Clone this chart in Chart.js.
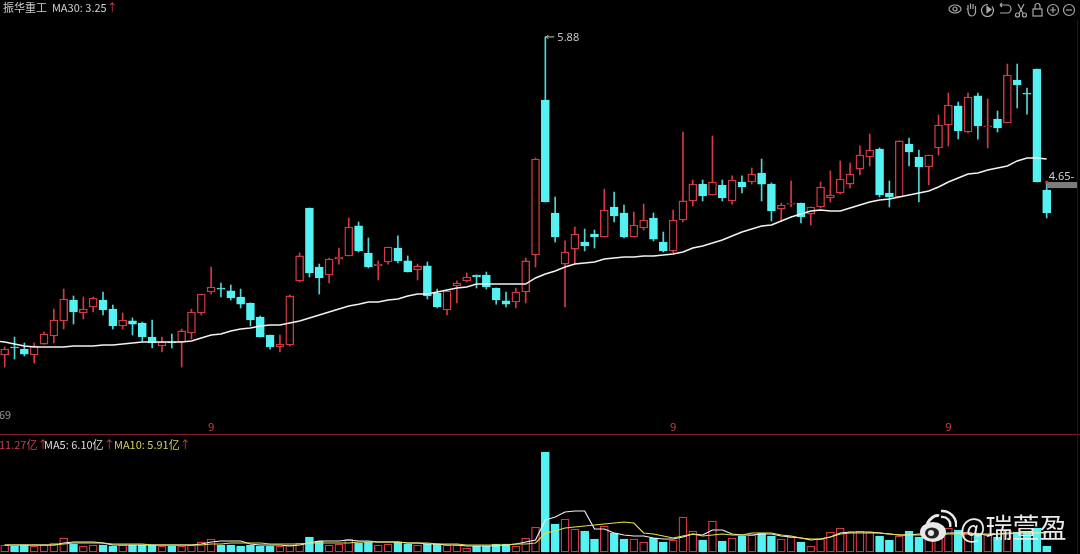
<!DOCTYPE html>
<html>
<head>
<meta charset="utf-8">
<title>振华重工</title>
<script src="https://cdn.jsdelivr.net/npm/chart.js@4"></script>
<style>
    html, body { margin: 0; padding: 0; background: #000; }
    #page { position: relative; width: 1080px; height: 554px; overflow: hidden; background: #000; font-family: "Noto Sans CJK SC", "Noto Sans", sans-serif; }
    #priceBox { position: absolute; left: 0; top: 0; width: 1080px; height: 434px; border-bottom: 1px solid #7d1b26; }
    #volBox { position: absolute; left: 0; top: 436px; width: 1080px; height: 118px; }
    #edge { position: absolute; left: 1077px; top: 20px; width: 1px; height: 534px; background: #3a0d14; }
    canvas { display: block; }
    .txt { position: absolute; font-size: 11px; line-height: 14px; white-space: nowrap; color: #d0d0d0; }
    .up { color: #c8404a; }
    #mark { position: absolute; left: 919px; top: 509px; }
    #sign { position: absolute; left: 960px; top: 509px; font-size: 27px; line-height: 36px; color: #e8e8e8; white-space: nowrap; }
    #tools { position: absolute; left: 945px; top: 1px; }
</style>
</head>
<body>
<div id="page">
    <div id="priceBox"><canvas id="priceChart" width="1080" height="434"></canvas></div>
    <div id="volBox"><canvas id="volChart" width="1080" height="118"></canvas></div>
    <div id="edge"></div>

    <div class="txt" style="left:3px;top:0px">振华重工&nbsp; MA30: 3.25<span class="up">↑</span></div>
    <div class="txt" style="left:-1px;top:407px;color:#9a9a9a">69</div>
    <div class="txt up" style="left:-1px;top:437px">11.27亿↑</div>
    <div class="txt" style="left:44px;top:437px;color:#dcdcdc">MA5: 6.10亿<span class="up">↑</span></div>
    <div class="txt" style="left:114px;top:437px;color:#cfcf5a">MA10: 5.91亿<span class="up">↑</span></div>

    <svg id="tools" width="134" height="18" viewBox="0 0 134 18" fill="none" stroke="#a8a8a8" stroke-width="1.2">
        <ellipse cx="10" cy="8" rx="6" ry="4"/><circle cx="10" cy="8" r="2"/>
        <path d="M23 9V4M25.5 8V2.5M28 8V3M30.5 9V5M23 9l-1-1.5M23 9c0 4 2 6 4 6s4-2 3.5-6"/>
        <path d="M43 3.5a6 6 0 1 0 4 2"/><path d="M42 5.5l4 3-4 3z" fill="#a8a8a8"/>
        <path d="M55 4h7a3.5 3.5 0 0 1 0 8h-7M55 4l2-2M55 4l2 2"/>
        <circle cx="72.5" cy="14" r="2"/><circle cx="79.5" cy="14" r="2"/><path d="M74 12.5L79 3M78 12.5L73 3"/>
        <rect x="88" y="8" width="9" height="7"/><path d="M90 8V5a2.5 2.5 0 0 1 5 0v3"/>
        <circle cx="108" cy="9" r="5.5"/><path d="M105 9h6M108 6v6"/>
        <circle cx="124" cy="9" r="5.5"/><path d="M121 9h6"/>
    </svg>

    <svg id="mark" width="38" height="36" viewBox="0 0 38 36">
        <ellipse cx="14" cy="23" rx="13" ry="10" fill="#e8e8e8"/>
        <path d="M8 15c3-6 9-10 12-8" stroke="#e8e8e8" stroke-width="3" fill="none"/>
        <ellipse cx="13" cy="24" rx="7" ry="5.5" fill="#222"/>
        <circle cx="12" cy="24" r="3" fill="#e8e8e8"/>
        <path d="M22 8a8 8 0 0 1 9 10M22 2a14 14 0 0 1 15 16" stroke="#e8e8e8" stroke-width="2.4" fill="none"/>
    </svg>
    <div id="sign">@瑞萱盈</div>
</div>

<script>
const opens = [
    3.208, 3.275, 3.258, 3.208, 3.300, 3.368, 3.494, 3.670, 3.561, 3.611,
    3.670, 3.594, 3.452, 3.494, 3.477, 3.359, 3.284, 3.317, 3.317, 3.393,
    3.561, 3.737, 3.771, 3.746, 3.695, 3.645, 3.527, 3.376, 3.275, 3.292,
    3.830, 4.443, 3.947, 3.880, 4.014, 4.040, 4.292, 4.065, 3.956, 3.989,
    4.107, 3.998, 3.922, 3.956, 3.729, 3.586, 3.788, 3.830, 3.880, 3.880,
    3.771, 3.662, 3.653, 3.737, 4.048, 5.350, 4.401, 3.972, 4.098, 4.157,
    4.224, 4.199, 4.451, 4.401, 4.199, 4.275, 4.359, 4.157, 4.082, 4.342,
    4.502, 4.644, 4.552, 4.636, 4.502, 4.661, 4.661, 4.737, 4.644, 4.434,
    4.476, 4.485, 4.392, 4.451, 4.527, 4.569, 4.644, 4.770, 4.871, 4.938,
    4.569, 4.535, 4.980, 4.871, 4.787, 4.947, 5.140, 5.300, 5.081, 5.384,
    5.123, 5.190, 5.157, 5.518, 5.409, 5.610, 4.594
];
const closes = [
    3.258, 3.267, 3.216, 3.284, 3.384, 3.502, 3.678, 3.569, 3.594, 3.687,
    3.586, 3.452, 3.502, 3.468, 3.359, 3.309, 3.317, 3.309, 3.410, 3.569,
    3.720, 3.779, 3.762, 3.687, 3.634, 3.502, 3.359, 3.275, 3.300, 3.704,
    4.040, 3.897, 3.855, 4.014, 4.031, 4.283, 4.082, 3.947, 3.972, 4.115,
    3.998, 3.905, 3.956, 3.704, 3.611, 3.746, 3.813, 3.863, 3.863, 3.779,
    3.670, 3.634, 3.737, 3.998, 4.854, 4.493, 4.199, 4.073, 4.224, 4.124,
    4.199, 4.426, 4.376, 4.199, 4.300, 4.342, 4.182, 4.082, 4.342, 4.502,
    4.644, 4.544, 4.661, 4.527, 4.678, 4.619, 4.728, 4.644, 4.418, 4.468,
    4.485, 4.367, 4.451, 4.619, 4.552, 4.686, 4.728, 4.888, 4.930, 4.552,
    4.535, 5.006, 4.913, 4.787, 4.888, 5.140, 5.308, 5.090, 5.375, 5.132,
    5.132, 5.115, 5.560, 5.476, 5.400, 4.661, 4.401
];
const highs = [
    3.275, 3.359, 3.309, 3.309, 3.401, 3.594, 3.762, 3.704, 3.695, 3.695,
    3.737, 3.628, 3.561, 3.519, 3.485, 3.502, 3.359, 3.384, 3.426, 3.594,
    3.720, 3.947, 3.813, 3.796, 3.762, 3.645, 3.535, 3.376, 3.376, 3.712,
    4.065, 4.443, 3.972, 4.023, 4.107, 4.359, 4.325, 4.191, 3.998, 4.115,
    4.208, 4.040, 3.972, 3.989, 3.762, 3.746, 3.830, 3.897, 3.880, 3.905,
    3.771, 3.737, 3.771, 4.023, 4.863, 5.880, 4.535, 4.166, 4.283, 4.266,
    4.258, 4.602, 4.577, 4.468, 4.409, 4.476, 4.401, 4.241, 4.426, 5.081,
    4.678, 4.678, 5.048, 4.678, 4.712, 4.712, 4.779, 4.854, 4.653, 4.485,
    4.670, 4.485, 4.451, 4.661, 4.754, 4.838, 4.821, 4.964, 5.064, 4.947,
    4.670, 5.006, 5.031, 4.930, 4.888, 5.224, 5.409, 5.333, 5.409, 5.409,
    5.358, 5.258, 5.652, 5.652, 5.451, 5.610, 4.661
];
const lows = [
    3.107, 3.174, 3.200, 3.141, 3.300, 3.309, 3.426, 3.468, 3.510, 3.569,
    3.544, 3.426, 3.426, 3.376, 3.326, 3.267, 3.233, 3.267, 3.107, 3.342,
    3.544, 3.720, 3.695, 3.670, 3.603, 3.452, 3.359, 3.258, 3.233, 3.284,
    3.821, 3.863, 3.720, 3.813, 3.972, 4.040, 4.073, 3.939, 3.838, 3.972,
    3.981, 3.905, 3.838, 3.678, 3.603, 3.544, 3.645, 3.821, 3.771, 3.762,
    3.634, 3.611, 3.603, 3.645, 3.947, 4.493, 4.157, 3.611, 3.972, 4.082,
    4.107, 4.199, 4.325, 4.191, 4.199, 4.258, 4.166, 4.073, 4.065, 4.325,
    4.460, 4.502, 4.552, 4.502, 4.476, 4.569, 4.644, 4.502, 4.334, 4.334,
    4.451, 4.317, 4.300, 4.443, 4.493, 4.560, 4.611, 4.720, 4.796, 4.535,
    4.451, 4.535, 4.796, 4.493, 4.636, 4.888, 4.964, 5.022, 5.073, 5.022,
    4.947, 5.081, 5.157, 5.283, 5.232, 4.661, 4.359
];
// first value sits one day left of the first candle, the line runs off the edge there
const ma30 = [
    3.326,
    3.317, 3.300, 3.284, 3.275, 3.275, 3.275, 3.275, 3.284, 3.284, 3.284,
    3.292, 3.292, 3.300, 3.309, 3.317, 3.317, 3.317, 3.317, 3.317, 3.326,
    3.351, 3.376, 3.384, 3.410, 3.426, 3.435, 3.452, 3.460, 3.460, 3.477,
    3.494, 3.519, 3.544, 3.569, 3.594, 3.620, 3.634, 3.653, 3.653, 3.670,
    3.678, 3.704, 3.720, 3.720, 3.737, 3.754, 3.771, 3.779, 3.804, 3.804,
    3.804, 3.804, 3.804, 3.804, 3.855, 3.888, 3.914, 3.947, 3.972, 3.981,
    3.989, 4.014, 4.023, 4.031, 4.031, 4.040, 4.040, 4.048, 4.056, 4.073,
    4.107, 4.124, 4.149, 4.174, 4.208, 4.241, 4.266, 4.292, 4.300, 4.334,
    4.367, 4.392, 4.418, 4.426, 4.418, 4.418, 4.443, 4.468, 4.493, 4.510,
    4.518, 4.535, 4.552, 4.569, 4.586, 4.619, 4.661, 4.695, 4.728, 4.737,
    4.762, 4.779, 4.796, 4.838, 4.863, 4.863, 4.854
];
const volumes = [
    2.1, 1.8, 2.1, 1.8, 2.1, 2.7, 4.2, 2.4, 1.8, 2.1,
    2.1, 1.8, 2.1, 2.1, 2.1, 2.1, 1.8, 1.8, 1.8, 2.1,
    3.0, 3.9, 2.1, 2.1, 1.8, 2.1, 1.8, 1.8, 1.8, 2.1,
    2.7, 4.5, 3.3, 2.1, 2.4, 3.9, 2.7, 3.0, 2.1, 2.4,
    3.0, 2.4, 2.1, 2.4, 2.4, 2.1, 2.1, 1.2, 1.8, 1.8,
    2.4, 2.4, 1.8, 4.2, 7.5, 30.0, 8.4, 9.9, 6.9, 6.3,
    3.9, 7.8, 5.7, 3.9, 3.9, 3.0, 4.2, 3.0, 3.6, 10.5,
    6.3, 3.6, 9.3, 3.3, 4.2, 4.8, 5.1, 5.7, 4.8, 3.9,
    4.5, 3.0, 1.8, 3.9, 6.0, 7.2, 6.0, 6.3, 6.0, 4.8,
    3.6, 4.8, 6.3, 4.5, 4.5, 5.7, 7.2, 6.6, 6.0, 5.7,
    5.1, 4.5, 6.6, 6.0, 6.0, 7.2, 1.8
];
const ma5 = [
    2.1, 2.1, 2.1, 2.1, 2.1, 2.1, 2.7, 3.0, 3.0, 3.0,
    2.7, 2.1, 2.1, 2.1, 2.1, 2.1, 2.1, 2.1, 2.1, 2.1,
    2.4, 3.0, 3.3, 3.3, 3.3, 2.4, 2.1, 2.1, 2.1, 1.8,
    2.1, 2.7, 3.3, 3.3, 3.3, 3.6, 3.3, 3.3, 3.0, 3.0,
    3.0, 2.7, 2.7, 2.4, 2.4, 2.1, 2.1, 1.8, 1.8, 1.8,
    1.8, 2.1, 2.4, 3.0, 3.6, 9.6, 10.5, 12.0, 12.3, 12.3,
    6.9, 6.9, 5.7, 5.1, 4.8, 4.8, 4.2, 3.9, 3.9, 4.5,
    5.4, 5.1, 6.6, 6.6, 5.4, 5.1, 5.1, 5.4, 5.4, 4.8,
    4.5, 4.2, 3.6, 3.9, 4.5, 5.7, 6.0, 6.0, 6.0, 5.7,
    5.4, 5.1, 5.1, 5.4, 5.4, 5.4, 5.7, 5.7, 5.7, 5.4,
    5.1, 5.4, 5.7, 5.7, 5.7, 5.7, 6.0
];
const ma10 = [
    2.1, 2.1, 2.1, 2.1, 2.1, 2.1, 2.4, 2.7, 2.7, 2.7,
    2.7, 2.4, 2.4, 2.4, 2.4, 2.1, 2.1, 2.1, 2.1, 2.1,
    2.1, 2.4, 2.4, 2.7, 2.7, 2.7, 2.7, 2.4, 2.4, 2.4,
    2.4, 2.7, 2.7, 2.7, 2.7, 2.7, 3.0, 3.0, 3.0, 3.0,
    3.0, 2.7, 2.7, 2.7, 2.4, 2.4, 2.4, 2.1, 2.1, 2.1,
    2.1, 2.1, 2.4, 2.4, 2.7, 5.7, 6.3, 7.2, 7.5, 7.8,
    8.1, 8.4, 8.7, 9.0, 8.7, 5.7, 5.4, 4.8, 4.2, 4.8,
    5.4, 4.8, 5.1, 5.4, 5.1, 5.1, 5.7, 5.7, 5.7, 5.1,
    4.8, 4.2, 3.9, 3.9, 4.5, 5.4, 5.7, 5.7, 5.7, 5.7,
    5.4, 5.1, 5.1, 5.1, 5.1, 5.1, 5.4, 5.4, 5.4, 5.4,
    5.4, 5.4, 5.4, 5.7, 5.7, 5.7, 5.7
];
const monthTicks = [21, 68, 96];
const monthLabel = '9';
const highNote = { index: 55, text: '5.88' };
const lastNote = { index: 106, text: '4.65-', price: 4.661, barLow: 4.61 };

const RED = '#d23a44';
const CYAN = '#54f2f2';
const WICK_CYAN = '#4fd6d6';

const isUp = i => closes[i] >= opens[i];
const days = opens.map((_, i) => i);
const bodyFill = days.map(i => isUp(i) ? '#000' : CYAN);
const bodyEdge = days.map(i => isUp(i) ? RED : CYAN);
const wickColor = days.map(i => isUp(i) ? RED : WICK_CYAN);

// bar charts turn offset on by default, that would squeeze a linear x axis
const xRange = { type: 'linear', min: -0.478, max: 109.39, offset: false, bounds: 'data' };
const commonOptions = {
    responsive: false,
    animation: false,
    events: [],
    layout: { padding: 0 },
    datasets: { bar: { grouped: false } },
    plugins: { legend: { display: false }, tooltip: { enabled: false } }
};

// leader line to the peak and the tag beside the last candle
const priceNotes = {
    id: 'priceNotes',
    afterDatasetsDraw(chart) {
        const { ctx, scales: { x, y } } = chart;
        ctx.save();
        ctx.font = "11px 'Noto Sans', sans-serif";
        ctx.textBaseline = 'middle';

        const hx = x.getPixelForValue(highNote.index);
        const hy = y.getPixelForValue(highs[highNote.index]);
        ctx.strokeStyle = '#c4c4c4';
        ctx.lineWidth = 1;
        ctx.beginPath();
        ctx.moveTo(hx, hy);
        ctx.lineTo(hx + 9, hy);
        ctx.moveTo(hx + 3, hy - 2);
        ctx.lineTo(hx + 1, hy);
        ctx.lineTo(hx + 3, hy + 2);
        ctx.stroke();
        ctx.fillStyle = '#c4c4c4';
        ctx.fillText(highNote.text, hx + 12, hy + 1);

        const lx = x.getPixelForValue(lastNote.index);
        const ly = y.getPixelForValue(lastNote.price);
        const ly2 = y.getPixelForValue(lastNote.barLow);
        ctx.fillStyle = '#7d7d7d';
        ctx.fillRect(lx, ly, x.right - 2 - lx, ly2 - ly);
        ctx.fillStyle = '#d2d2d2';
        ctx.fillText(lastNote.text, lx + 2, ly - 5);
        ctx.fillStyle = RED;
        ctx.beginPath();
        ctx.arc(lx, ly, 1.5, 0, Math.PI * 2);
        ctx.fill();
        ctx.restore();
    }
};

new Chart(document.getElementById('priceChart'), {
    type: 'bar',
    data: {
        datasets: [
            {
                type: 'line',
                data: ma30.map((v, i) => ({ x: i - 1, y: v })),
                borderColor: '#f2f2f2',
                borderWidth: 1.5,
                pointRadius: 0,
                tension: 0,
                order: 0
            },
            {
                data: days.map(i => ({ x: i, y: [opens[i], closes[i]] })),
                backgroundColor: bodyFill,
                borderColor: bodyEdge,
                borderWidth: 1.4,
                borderSkipped: false,
                barThickness: 8,
                order: 1
            },
            {
                data: days.map(i => ({ x: i, y: [lows[i], highs[i]] })),
                backgroundColor: wickColor,
                borderWidth: 0,
                barThickness: 1,
                order: 2
            }
        ]
    },
    options: {
        ...commonOptions,
        scales: {
            x: {
                ...xRange,
                grid: { display: false, drawTicks: false },
                border: { display: false },
                afterFit: s => { s.height = 14; },
                afterBuildTicks: s => { s.ticks = monthTicks.map(v => ({ value: v })); },
                ticks: {
                    autoSkip: false,
                    maxRotation: 0,
                    padding: 1,
                    color: RED,
                    font: { size: 11, family: "'Noto Sans', sans-serif" },
                    callback: () => monthLabel
                }
            },
            y: { display: false, min: 2.662, max: 6.19 }
        }
    },
    plugins: [priceNotes]
});

new Chart(document.getElementById('volChart'), {
    type: 'bar',
    data: {
        datasets: [
            {
                type: 'line',
                data: ma5.map((v, i) => ({ x: i, y: v })),
                borderColor: '#f0f0f0',
                borderWidth: 1.2,
                pointRadius: 0,
                order: 1
            },
            {
                type: 'line',
                data: ma10.map((v, i) => ({ x: i, y: v })),
                borderColor: '#e0e04a',
                borderWidth: 1.2,
                pointRadius: 0,
                order: 0
            },
            {
                data: days.map(i => ({ x: i, y: volumes[i] })),
                backgroundColor: bodyFill,
                borderColor: bodyEdge,
                borderWidth: 1.3,
                borderSkipped: false,
                barThickness: 8,
                order: 2
            }
        ]
    },
    options: {
        ...commonOptions,
        scales: {
            x: { ...xRange, display: false },
            y: { display: false, min: -0.6, max: 34.8 }
        }
    }
});
</script>
</body>
</html>
